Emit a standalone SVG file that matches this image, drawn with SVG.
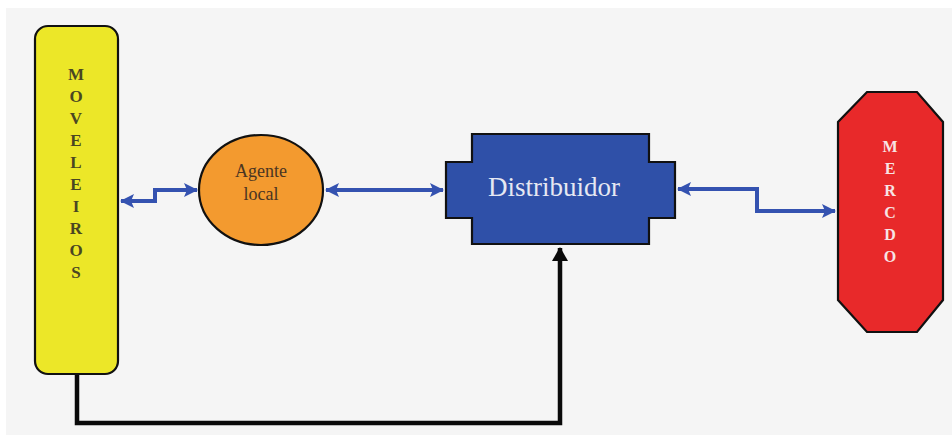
<svg xmlns="http://www.w3.org/2000/svg" width="952" height="437" viewBox="0 0 952 437">
  <defs>
    <style>
      .node { stroke: #111; stroke-width: 2.2; }
      .blue { fill: none; stroke: #3452b0; stroke-width: 4; }
      .black { fill: none; stroke: #0a0a0a; stroke-width: 4.5; }
      .vert { font-family: "Liberation Serif", "Times New Roman", serif; font-weight: bold; text-anchor: middle; }
      .serif { font-family: "Liberation Serif", "Times New Roman", serif; text-anchor: middle; }
    </style>
    <marker id="bh" viewBox="0 0 14 14" refX="13" refY="7" markerWidth="14" markerHeight="14" markerUnits="userSpaceOnUse" orient="auto-start-reverse">
      <path d="M0,0 L14,7 L0,14 L3,7 Z" fill="#3452b0"/>
    </marker>
    <marker id="kh" viewBox="0 0 14 16" refX="13" refY="8" markerWidth="14" markerHeight="16" markerUnits="userSpaceOnUse" orient="auto">
      <path d="M0,0 L14,8 L0,16 Z" fill="#0a0a0a"/>
    </marker>
  </defs>

  <!-- page -->
  <rect x="0" y="0" width="952" height="437" fill="#ffffff"/>
  <rect x="6" y="8" width="946" height="427" fill="#f5f5f5"/>

  <!-- connectors -->
  <g id="connectors">
    <path class="blue" d="M121,201 H155 V190 H197" marker-start="url(#bh)" marker-end="url(#bh)"/>
    <path class="blue" d="M326,190 H443" marker-start="url(#bh)" marker-end="url(#bh)"/>
    <path class="blue" d="M678,189 H757 V211 H835" marker-start="url(#bh)" marker-end="url(#bh)"/>
    <path class="black" d="M77,375 V423 H560 V248" marker-end="url(#kh)"/>
  </g>

  <!-- MOVELEIROS -->
  <g id="moveleiros">
    <rect class="node" x="35" y="26" width="83" height="348" rx="13" fill="#ece728"/>
    <g class="vert" font-size="17" fill="#4a4622">
      <text x="76" y="80">M</text>
      <text x="76" y="102">O</text>
      <text x="76" y="124">V</text>
      <text x="76" y="146">E</text>
      <text x="76" y="168">L</text>
      <text x="76" y="190">E</text>
      <text x="76" y="212">I</text>
      <text x="76" y="234">R</text>
      <text x="76" y="256">O</text>
      <text x="76" y="278">S</text>
    </g>
  </g>

  <!-- Agente local -->
  <g id="agente">
    <ellipse class="node" cx="261" cy="190" rx="62" ry="55" fill="#f39a2f"/>
    <text class="serif" x="261" y="177" font-size="18" fill="#4a3522">Agente</text>
    <text class="serif" x="261" y="200" font-size="18" fill="#4a3522">local</text>
  </g>

  <!-- Distribuidor -->
  <g id="distribuidor">
    <path class="node" d="M472,134 H649 V162 H675 V218 H649 V244 H472 V218 H446 V162 H472 Z" fill="#2f50a8"/>
    <text class="serif" x="554" y="196" font-size="27" fill="#e6e8f2">Distribuidor</text>
  </g>

  <!-- MERCDO -->
  <g id="mercado">
    <polygon class="node" points="867,92 917,92 943,122 943,300 917,332 867,332 838,300 838,122" fill="#e8292a"/>
    <g class="vert" font-size="16" fill="#f7e4e4">
      <text x="890" y="152">M</text>
      <text x="890" y="174">E</text>
      <text x="890" y="196">R</text>
      <text x="890" y="218">C</text>
      <text x="890" y="240">D</text>
      <text x="890" y="262">O</text>
    </g>
  </g>
</svg>
